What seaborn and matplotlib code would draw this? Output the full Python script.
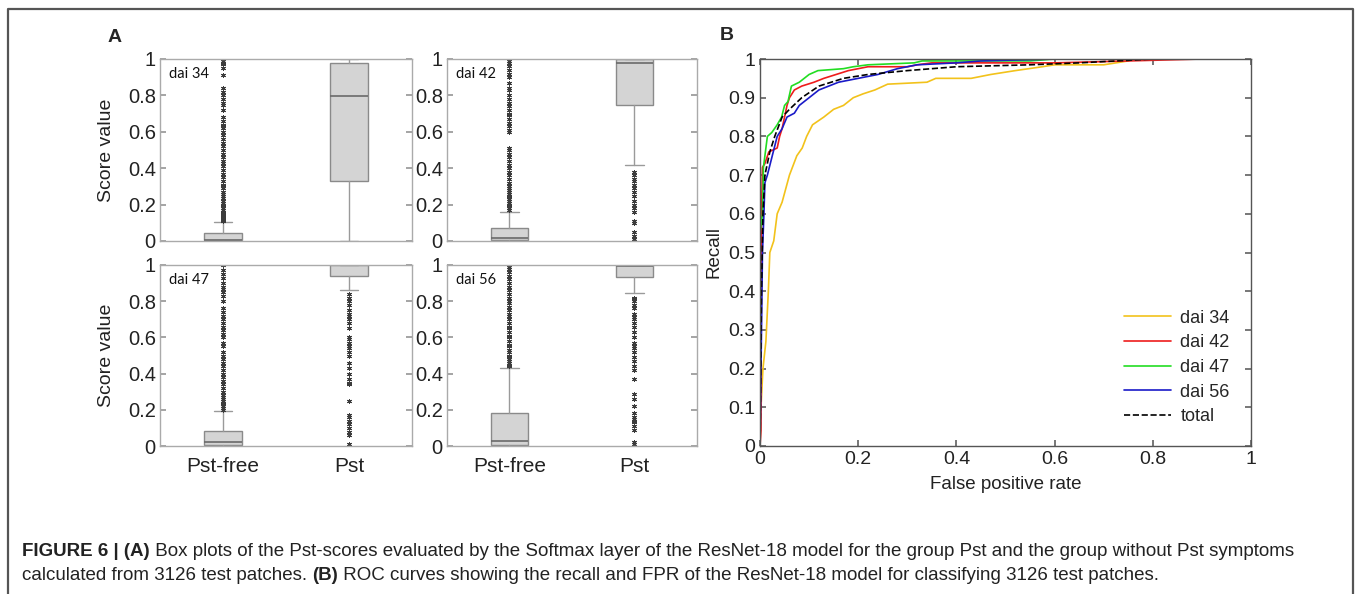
import matplotlib
matplotlib.use("Agg")
import matplotlib.pyplot as plt
from matplotlib.lines import Line2D
import pandas as pd
import seaborn as sns

# ---------------- data ----------------
days = ["dai 34", "dai 42", "dai 47", "dai 56"]
groups = ["Pst-free", "Pst"]

# box statistics, order: dai34, dai42, dai47, dai56 ; each [Pst-free, Pst]
whis_low = [[0.0, 0.0], [0.0, 0.415], [0.0, 0.86], [0.0, 0.845]]
box_q1 = [[0.004, 0.33], [0.003, 0.75], [0.004, 0.94], [0.004, 0.935]]
box_med = [[0.008, 0.795], [0.015, 0.98], [0.02, 0.998], [0.03, 0.995]]
box_q3 = [[0.045, 0.98], [0.07, 1.0], [0.085, 1.0], [0.18, 1.0]]
whis_high = [[0.105, 1.0], [0.16, 1.0], [0.195, 1.0], [0.43, 1.0]]

fliers_34_free = [0.11, 0.115, 0.12, 0.125, 0.13, 0.135, 0.14, 0.15, 0.155, 0.16, 0.17, 0.18,
                  0.19, 0.2, 0.21, 0.22, 0.235, 0.25, 0.26, 0.27, 0.29, 0.3, 0.31, 0.33, 0.35,
                  0.37, 0.39, 0.41, 0.43, 0.44, 0.46, 0.48, 0.5, 0.52, 0.54, 0.56, 0.58, 0.6,
                  0.62, 0.63, 0.64, 0.66, 0.68, 0.72, 0.75, 0.76, 0.78, 0.8, 0.82, 0.84, 0.91,
                  0.95, 0.97, 0.98, 0.99, 1.0]
fliers_34_pst = []
fliers_42_free = [0.17, 0.18, 0.19, 0.2, 0.21, 0.22, 0.23, 0.24, 0.25, 0.26, 0.27, 0.28, 0.29,
                  0.3, 0.32, 0.34, 0.36, 0.38, 0.4, 0.42, 0.44, 0.46, 0.48, 0.5, 0.51, 0.6, 0.61,
                  0.63, 0.65, 0.67, 0.69, 0.7, 0.72, 0.74, 0.76, 0.78, 0.8, 0.83, 0.84, 0.87,
                  0.9, 0.92, 0.94, 0.96, 0.98, 0.99]
fliers_42_pst = [0.0, 0.01, 0.03, 0.05, 0.1, 0.11, 0.16, 0.18, 0.2, 0.22, 0.25, 0.27, 0.29,
                 0.31, 0.33, 0.34, 0.36, 0.38]
fliers_47_free = [0.2, 0.21, 0.22, 0.23, 0.24, 0.25, 0.26, 0.27, 0.28, 0.3, 0.32, 0.34, 0.36,
                  0.38, 0.4, 0.42, 0.44, 0.46, 0.48, 0.5, 0.52, 0.55, 0.57, 0.6, 0.62, 0.64,
                  0.66, 0.68, 0.7, 0.72, 0.74, 0.76, 0.8, 0.83, 0.85, 0.87, 0.88, 0.9, 0.93,
                  0.95, 0.97, 1.0]
fliers_47_pst = [0.01, 0.06, 0.08, 0.1, 0.12, 0.14, 0.16, 0.17, 0.25, 0.34, 0.35, 0.37, 0.4,
                 0.43, 0.46, 0.5, 0.52, 0.54, 0.55, 0.57, 0.59, 0.6, 0.65, 0.68, 0.7, 0.72,
                 0.73, 0.75, 0.78, 0.8, 0.82, 0.84]
fliers_56_free = [0.44, 0.45, 0.46, 0.47, 0.48, 0.49, 0.5, 0.52, 0.53, 0.55, 0.56, 0.58, 0.6,
                  0.61, 0.63, 0.65, 0.66, 0.68, 0.7, 0.72, 0.73, 0.75, 0.77, 0.79, 0.8, 0.82,
                  0.84, 0.86, 0.88, 0.9, 0.92, 0.94, 0.96, 0.98, 0.99, 1.0]
fliers_56_pst = [0.01, 0.02, 0.09, 0.11, 0.13, 0.14, 0.15, 0.16, 0.18, 0.22, 0.26, 0.29, 0.37,
                 0.42, 0.44, 0.47, 0.49, 0.52, 0.54, 0.55, 0.57, 0.6, 0.63, 0.66, 0.68, 0.7,
                 0.71, 0.73, 0.76, 0.78, 0.8, 0.81, 0.82]
fliers = [[fliers_34_free, fliers_34_pst], [fliers_42_free, fliers_42_pst],
          [fliers_47_free, fliers_47_pst], [fliers_56_free, fliers_56_pst]]

# ROC curves
fpr_34 = [0, 0.002, 0.006, 0.012, 0.017, 0.02, 0.028, 0.035, 0.045, 0.06, 0.075, 0.086, 0.095,
          0.107, 0.13, 0.15, 0.17, 0.19, 0.21, 0.234, 0.26, 0.34, 0.358, 0.43, 0.47, 0.52,
          0.575, 0.6, 0.70, 0.75, 0.76, 1.0]
tpr_34 = [0, 0.1, 0.2, 0.27, 0.4, 0.5, 0.53, 0.6, 0.63, 0.7, 0.75, 0.77, 0.8, 0.83, 0.85, 0.87,
          0.88, 0.9, 0.91, 0.92, 0.935, 0.94, 0.95, 0.95, 0.96, 0.97, 0.98, 0.985, 0.985,
          0.995, 1.0, 1.0]
fpr_42 = [0, 0.002, 0.003, 0.005, 0.01, 0.018, 0.035, 0.04, 0.045, 0.055, 0.06, 0.07, 0.085,
          0.11, 0.13, 0.155, 0.18, 0.22, 0.3, 0.32, 0.35, 0.6, 0.75, 0.9, 1.0]
tpr_42 = [0, 0.04, 0.6, 0.72, 0.73, 0.76, 0.77, 0.8, 0.82, 0.88, 0.9, 0.92, 0.93, 0.94, 0.95,
          0.96, 0.97, 0.98, 0.98, 0.985, 0.99, 0.99, 0.995, 1.0, 1.0]
fpr_47 = [0, 0.0, 0.005, 0.007, 0.015, 0.024, 0.035, 0.044, 0.05, 0.057, 0.064, 0.08, 0.09,
          0.1, 0.118, 0.17, 0.19, 0.22, 0.314, 0.33, 0.55, 0.6, 1.0]
tpr_47 = [0, 0.55, 0.6, 0.72, 0.8, 0.81, 0.83, 0.85, 0.88, 0.89, 0.93, 0.94, 0.95, 0.96, 0.97,
          0.975, 0.98, 0.985, 0.99, 0.995, 0.995, 1.0, 1.0]
fpr_56 = [0, 0.003, 0.005, 0.008, 0.01, 0.015, 0.025, 0.035, 0.045, 0.055, 0.07, 0.08, 0.1,
          0.12, 0.14, 0.16, 0.2, 0.24, 0.28, 0.32, 0.4, 0.45, 0.6, 1.0]
tpr_56 = [0, 0.3, 0.5, 0.6, 0.68, 0.7, 0.75, 0.8, 0.82, 0.85, 0.86, 0.88, 0.9, 0.92, 0.93,
          0.94, 0.95, 0.96, 0.975, 0.985, 0.99, 0.995, 1.0, 1.0]
fpr_total = [0, 0.003, 0.006, 0.01, 0.02, 0.03, 0.045, 0.06, 0.085, 0.12, 0.17, 0.22, 0.3,
             0.4, 0.55, 0.65, 0.8, 1.0]
tpr_total = [0, 0.4, 0.6, 0.7, 0.76, 0.8, 0.85, 0.87, 0.9, 0.93, 0.95, 0.96, 0.97, 0.98,
             0.985, 0.99, 1.0, 1.0]

roc_labels = ["dai 34", "dai 42", "dai 47", "dai 56", "total"]
roc_fpr = [fpr_34, fpr_42, fpr_47, fpr_56, fpr_total]
roc_tpr = [tpr_34, tpr_42, tpr_47, tpr_56, tpr_total]
roc_colors = ["#f2c21b", "#ee1c1c", "#22dd22", "#1a1ac8", "black"]

# ---------------- style ----------------
sns.set_theme(style="white")
plt.rcParams["font.family"] = ["Liberation Sans", "DejaVu Sans"]

W, H = 1358, 594
fig = plt.figure(figsize=(W / 100, H / 100), dpi=100)


def px_axes(left, top, right, bottom):
    return fig.add_axes([left / W, 1 - bottom / H, (right - left) / W, (bottom - top) / H])


box_pos = [(160, 59, 412, 241), (447, 59, 697, 241), (160, 265, 412, 446), (447, 265, 697, 446)]
fmt = lambda v: f"{v:g}"

for i, day in enumerate(days):
    ax = px_axes(*box_pos[i])
    stats = []
    for j, g in enumerate(groups):
        stats.append(dict(whislo=whis_low[i][j], q1=box_q1[i][j], med=box_med[i][j],
                          q3=box_q3[i][j], whishi=whis_high[i][j], fliers=fliers[i][j], label=g))
    ax.bxp(stats, positions=[1, 2], widths=0.3, patch_artist=True,
           boxprops=dict(facecolor="#d4d4d4", edgecolor="#8a8a8a", linewidth=1),
           medianprops=dict(color="#6a6a6a", linewidth=1.2),
           whiskerprops=dict(color="#9a9a9a", linewidth=1),
           capprops=dict(color="#9a9a9a", linewidth=1),
           flierprops=dict(marker=(6, 2, 0), markersize=3.6, markeredgecolor="#3c3c3c",
                           markeredgewidth=0.7, linestyle="none"))
    ax.set_xlim(0.5, 2.5)
    ax.set_ylim(0, 1)
    ax.set_yticks([0, 0.2, 0.4, 0.6, 0.8, 1])
    ax.set_yticklabels([fmt(v) for v in [0, 0.2, 0.4, 0.6, 0.8, 1]])
    ax.tick_params(axis="y", direction="in", left=True, right=True, length=4, color="#999999",
                   labelsize=14.5, labelcolor="#222222", pad=3)
    if i >= 2:
        ax.set_xticks([1, 2])
        ax.set_xticklabels(groups)
        ax.tick_params(axis="x", length=0, labelsize=15, labelcolor="#222222", pad=8)
    else:
        ax.set_xticks([])
    for s in ax.spines.values():
        s.set_color("#aaaaaa")
        s.set_linewidth(1)
    if i % 2 == 0:
        ax.set_ylabel("Score value", fontsize=14, color="#222222", labelpad=9)
    ax.text(0.035, 0.915, day, transform=ax.transAxes, fontsize=10.5, family=["Lato", "DejaVu Sans"],
            color="#111111", va="center", ha="left")

# panel B
axb = px_axes(760, 59, 1251, 446)
for lab, xs, ys, c in zip(roc_labels, roc_fpr, roc_tpr, roc_colors):
    df = pd.DataFrame({"fpr": xs, "tpr": ys})
    sns.lineplot(data=df, x="fpr", y="tpr", ax=axb, color=c, estimator=None, sort=False,
                 linewidth=1.2, linestyle="--" if lab == "total" else "-", label=lab)
axb.set_xlim(0, 1)
axb.set_ylim(0, 1)
axb.set_xticks([0, 0.2, 0.4, 0.6, 0.8, 1])
axb.set_xticklabels([fmt(v) for v in [0, 0.2, 0.4, 0.6, 0.8, 1]])
yt = [round(k * 0.1, 1) for k in range(11)]
axb.set_yticks(yt)
axb.set_yticklabels([fmt(v) for v in yt])
axb.tick_params(direction="in", left=True, right=True, bottom=True, top=True, length=4,
                color="#666666", labelsize=14, labelcolor="#222222")
for s in axb.spines.values():
    s.set_color("#555555")
    s.set_linewidth(1)
axb.set_xlabel("False positive rate", fontsize=13.5, color="#222222", labelpad=6)
axb.set_ylabel("Recall", fontsize=13.5, color="#222222", labelpad=4)
axb.legend(loc="lower right", bbox_to_anchor=(0.99, 0.012), frameon=False, fontsize=13,
           handlelength=2.6, labelspacing=0.42, handletextpad=0.55)

# panel letters
fig.text(108 / W, 1 - 38 / H, "A", fontsize=14, fontweight="bold", va="center", ha="left")
fig.text(720 / W, 1 - 35 / H, "B", fontsize=14, fontweight="bold", va="center", ha="left")

# frame around figure
fig.add_artist(Line2D([8 / W, 8 / W, 1353 / W, 1353 / W], [-0.05, 1 - 9 / H, 1 - 9 / H, -0.05],
                      transform=fig.transFigure, color="#555555", linewidth=1.6))

# caption made of bold and regular pieces
cap_lines = [
    [("FIGURE 6 | (A)", "bold"),
     (" Box plots of the Pst-scores evaluated by the Softmax layer of the ResNet-18 model for the group Pst and the group without Pst symptoms", "normal")],
    [("calculated from 3126 test patches. ", "normal"), ("(B)", "bold"),
     (" ROC curves showing the recall and FPR of the ResNet-18 model for classifying 3126 test patches.", "normal")],
]
cap_y = [551, 575]
renderer = fig.canvas.get_renderer()
for pieces, yy in zip(cap_lines, cap_y):
    x = 22
    for txt, wt in pieces:
        t = fig.text(x / W, 1 - yy / H, txt, fontsize=13.5, fontweight=wt, color="#222222",
                     va="center", ha="left")
        bb = t.get_window_extent(renderer=renderer)
        x += bb.width

fig.savefig("out.png", dpi=100)
